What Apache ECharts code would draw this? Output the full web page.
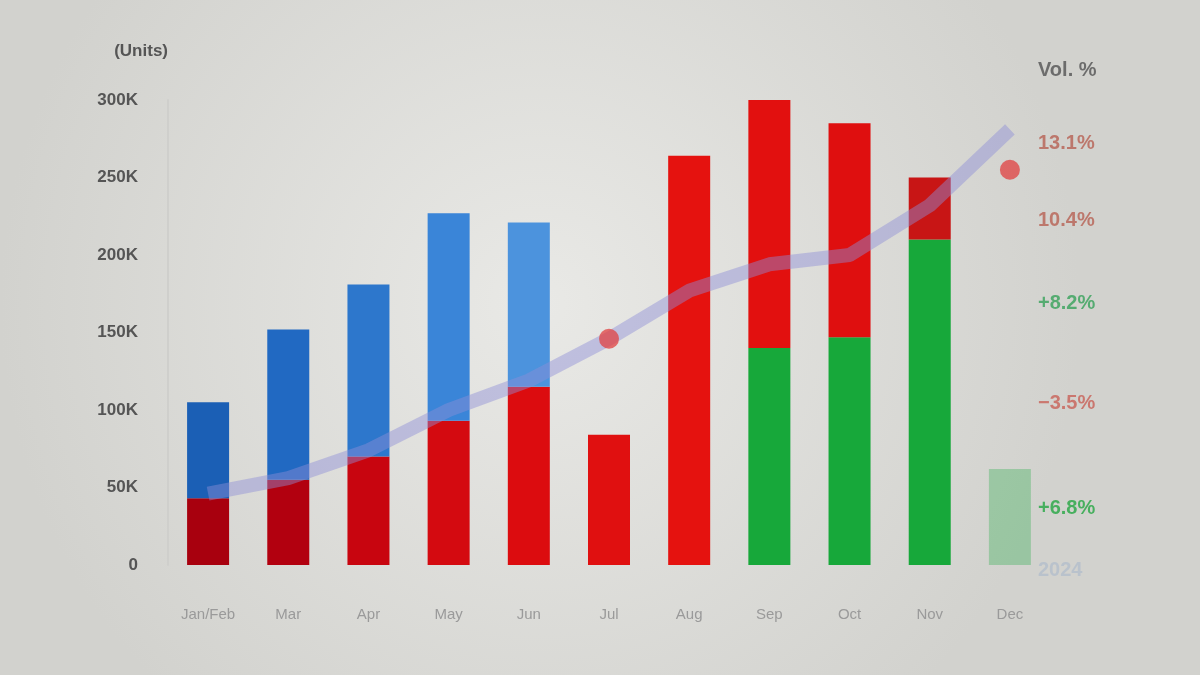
<!DOCTYPE html>
<html><head><meta charset="utf-8">
<script src="https://cdn.jsdelivr.net/npm/echarts@6/dist/echarts.min.js"></script>
<style>html,body{margin:0;padding:0;background:#dcdcd8}#c{width:1200px;height:675px}</style>
</head><body><div id="c"></div>
<script>
const categories = ["Jan/Feb", "Mar", "Apr", "May", "Jun", "Jul", "Aug", "Sep", "Oct", "Nov", "Dec"];
const greenValues = [null, null, null, null, null, null, null, 140, 147, 210, 62];
const redValues = [43, 55, 70, 93, 115, 84, 264, 170, 138, 40, null];
const blueValues = [62, 97, 111, 134, 106, null, null, null, null, null, null];
const lineValues = [46, 56, 74, 100, 119, 146, 177, 194, 200, 232, 281];
const highlightValues = [null, null, null, null, null, 146, null, null, null, null, 255];
const yTicks = ["0", "50K", "100K", "150K", "200K", "250K", "300K"];
const sideLabels = ["Vol. %", "13.1%", "10.4%", "+8.2%", "−3.5%", "+6.8%", "2024"];
const sideColors = ["#5a5a5a", "#b8675a", "#b8675a", "#3fa560", "#c9675e", "#2fa94a", "#a8b8cc"];

const chart = echarts.init(document.getElementById('c'));
const redColors = ["#a8000e", "#b2000f", "#c8050f", "#d40a10", "#dc0c0f", "#e01010", "#e5120f", "#e2100f", "#df0f0f", "#c81515", "#e01010"];
const blueColors = ["#1b5fb5", "#2169c2", "#2d77cc", "#3a85d8", "#4c93dd"];
const sideY = [72, 145, 222, 305, 405, 510, 572];

chart.setOption({
  backgroundColor: {
    type: 'radial', x: 0.45, y: 0.45, r: 0.8,
    colorStops: [{offset: 0, color: '#e9e9e6'}, {offset: 1, color: '#d2d2ce'}]
  },
  animation: false,
  grid: {left: 168, right: 150, top: 100, bottom: 110},
  xAxis: {
    type: 'category', data: categories,
    axisLine: {show: false}, axisTick: {show: false},
    axisLabel: {color: '#9a9a9a', fontSize: 15, margin: 42, fontFamily: 'Liberation Sans'}
  },
  yAxis: {
    type: 'value', min: 0, max: 300, interval: 50,
    name: '(Units)', nameLocation: 'end', nameGap: 40,
    nameTextStyle: {color: '#555', fontSize: 17, fontWeight: 'bold', align: 'right'},
    axisLine: {show: true, lineStyle: {color: '#cfcfcc', width: 2}},
    axisTick: {show: false},
    splitLine: {show: false},
    axisLabel: {
      color: '#555', fontSize: 17, fontWeight: 'bold', margin: 30,
      formatter: (v) => yTicks[Math.round(v / 50)]
    }
  },
  graphic: sideLabels.map((t, i) => ({
    type: 'text', left: 1038, top: sideY[i] - 12,
    style: {text: t, fill: sideColors[i], font: 'bold 20px Liberation Sans', opacity: i === 6 ? 0.6 : 0.85}
  })),
  series: [
    {
      name: 'Green', type: 'bar', stack: 's', barWidth: 42,
      data: greenValues.map((v, i) => ({value: v, itemStyle: {color: '#17a83a', opacity: i === 10 ? 0.3 : 1}}))
    },
    {
      name: 'Red', type: 'bar', stack: 's', barWidth: 42,
      data: redValues.map((v, i) => ({value: v, itemStyle: {color: redColors[i]}}))
    },
    {
      name: 'Blue', type: 'bar', stack: 's', barWidth: 42,
      data: blueValues.map((v, i) => ({value: v, itemStyle: {color: blueColors[i] || '#4c93dd'}}))
    },
    {
      name: 'Trend', type: 'line', data: lineValues, showSymbol: false, smooth: false,
      lineStyle: {color: '#8e8fd6', width: 14, opacity: 0.45}, z: 5
    },
    {
      name: 'Mark', type: 'scatter', data: highlightValues, symbol: 'circle', symbolSize: 20,
      itemStyle: {color: '#e04040', opacity: 0.75}, z: 6
    }
  ]
});
</script></body></html>
